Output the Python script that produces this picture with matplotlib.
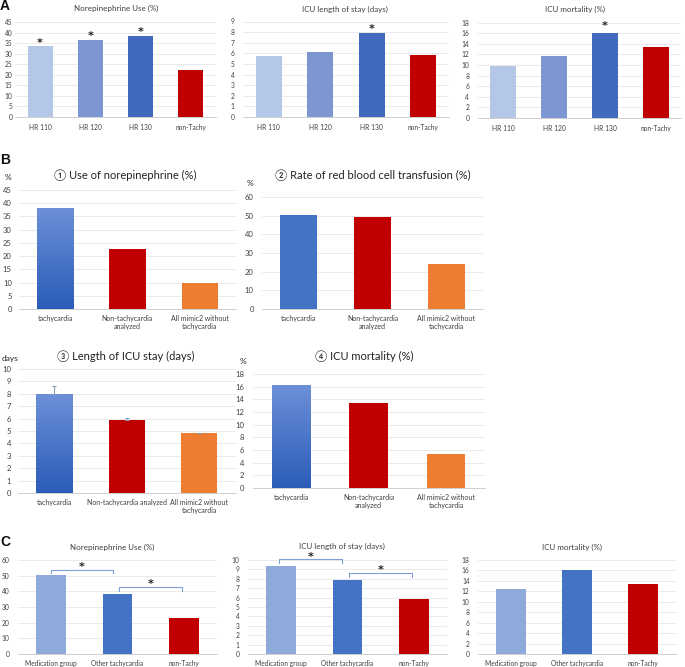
import numpy as np
import matplotlib
matplotlib.use("Agg")
import matplotlib.pyplot as plt
from matplotlib.colors import LinearSegmentedColormap

plt.rcParams['font.family'] = ['Lato', 'Noto Sans CJK JP', 'DejaVu Sans']

# ---- data ----
hr_groups = ['HR 110', 'HR 120', 'HR 130', 'non-Tachy']
a_norepi = [33.5, 36.7, 38.5, 22.5]
a_los = [5.75, 6.1, 7.95, 5.85]
a_mort = [9.8, 11.6, 16.1, 13.4]

b_groups = ['tachycardia', 'Non-tachycardia\nanalyzed', 'All mimic2 without\ntachycardia']
b_groups_los = ['tachycardia', 'Non-tachycardia analyzed', 'All mimic2 without\ntachycardia']
b_norepi = [38.3, 22.6, 9.8]
b_rbc = [50.5, 49.5, 24.0]
b_los = [7.95, 5.85, 4.8]
b_los_err = [0.7, 0.2, 0.05]
b_mort = [16.2, 13.4, 5.4]

c_groups = ['Medication group', 'Other tachycardia', 'non-Tachy']
c_norepi = [50.2, 38.0, 22.7]
c_los = [9.35, 7.9, 5.85]
c_mort = [12.4, 16.1, 13.4]

a_colors = ['#b4c7e7', '#7b96d1', '#4169be', '#c00000']
c_colors = ['#8eaadb', '#4472c4', '#c00000']
RED = '#c00000'
ORANGE = '#ed7d31'
BLUE = '#4472c4'
TXT = '#404040'

W, H = 685, 667
fig = plt.figure(figsize=(W / 100, H / 100), dpi=100)


def axpx(l, top, w, h):
    return fig.add_axes([l / W, 1 - (top + h) / H, w / W, h / H])


def ftext(x, y, s, **kw):
    fig.text(x / W, 1 - y / H, s, **kw)


def style(ax, ylim, step, xfs, yfs, xpad, ypad):
    ax.set_ylim(0, ylim)
    ax.set_yticks(np.arange(0, ylim + 0.001, step))
    for s in ['top', 'right', 'left']:
        ax.spines[s].set_visible(False)
    ax.spines['bottom'].set_color('#d0d0d0')
    ax.spines['bottom'].set_linewidth(0.7)
    ax.grid(axis='y', color='#e6e6e6', linewidth=0.6)
    ax.set_axisbelow(True)
    ax.tick_params(axis='both', length=0, colors=TXT)
    ax.tick_params(axis='x', labelsize=xfs, pad=xpad)
    ax.tick_params(axis='y', labelsize=yfs, pad=ypad)


def bars(ax, labels, vals, colors, width):
    x = np.arange(len(vals))
    b = ax.bar(x, vals, width=width, color=colors, zorder=2)
    ax.set_xticks(x)
    ax.set_xticklabels(labels)
    ax.set_xlim(-0.5, len(vals) - 0.5)
    return b


grad = LinearSegmentedColormap.from_list('g', ['#2b5cb8', '#6c90d8'])


def gradient(ax, bar):
    x0, w, h = bar.get_x(), bar.get_width(), bar.get_height()
    img = ax.imshow(np.linspace(0, 1, 100).reshape(-1, 1), cmap=grad, origin='lower',
                    extent=(x0, x0 + w, 0, h), aspect='auto', zorder=3)
    img.set_clip_path(bar)


def star(ax, x, y, dy=1):
    ax.annotate('*', (x, y), xytext=(0, dy), textcoords='offset points', ha='center',
                va='bottom', fontsize=8, fontweight='bold', color='#202020',
                annotation_clip=False, family='DejaVu Sans')


# ---- panel A ----
ax = axpx(15, 22, 201, 95)
bars(ax, hr_groups, a_norepi, a_colors, 0.5)
style(ax, 45, 5, 4.8, 4.8, 5, 2)
for i in range(3):
    star(ax, i, a_norepi[i], -1)
ftext(116, 8, 'Norepinephrine Use (%)', ha='center', va='center', fontsize=5.8, color=TXT)

ax = axpx(243, 21.5, 206, 95.5)
bars(ax, hr_groups, a_los, a_colors, 0.5)
style(ax, 9, 1, 4.8, 4.8, 5, 6)
star(ax, 2, a_los[2], -1)
ftext(345, 9, 'ICU length of stay (days)', ha='center', va='center', fontsize=5.8, color=TXT)

ax = axpx(477.5, 22.5, 204, 95.5)
bars(ax, hr_groups, a_mort, a_colors, 0.5)
style(ax, 18, 2, 4.8, 4.8, 5, 6)
star(ax, 2, a_mort[2], 1)
ftext(575, 9, 'ICU mortality (%)', ha='center', va='center', fontsize=5.8, color=TXT)

# ---- panel B ----
ax = axpx(18.75, 190, 217.5, 119)
b = bars(ax, b_groups, b_norepi, [BLUE, RED, ORANGE], 0.5)
gradient(ax, b[0])
style(ax, 45, 5, 5, 5.5, 4, 5)
ax.set_xlim(-0.5, 2.5)
ftext(8, 178, '%', ha='center', va='center', fontsize=6, color='#222222')
ftext(125, 175, '\u2460 Use of norepinephrine (%)', ha='center', va='center', fontsize=8, color='#222222')

ax = axpx(262, 197, 221, 112)
bars(ax, b_groups, b_rbc, [BLUE, RED, ORANGE], 0.5)
style(ax, 60, 10, 5, 5.5, 4, 6)
ftext(250, 183, '%', ha='center', va='center', fontsize=6, color='#222222')
ftext(373, 175, '\u2461 Rate of red blood cell transfusion (%)', ha='center', va='center', fontsize=8, color='#222222')

ax = axpx(18, 369, 217.5, 124)
b = bars(ax, b_groups_los, b_los, [BLUE, RED, ORANGE], 0.5)
ax.errorbar(np.arange(3), b_los, yerr=[np.zeros(3), b_los_err], fmt='none',
            ecolor='#8a9cc0', elinewidth=0.8, capsize=1.5, capthick=0.8, zorder=4)
gradient(ax, b[0])
style(ax, 10, 1, 5, 5.5, 4, 5)
ax.set_xlim(-0.5, 2.5)
ftext(10, 358, 'days', ha='center', va='center', fontsize=6, color='#222222')
ftext(126, 356, '\u2462 Length of ICU stay (days)', ha='center', va='center', fontsize=8, color='#222222')

ax = axpx(252.75, 374, 232, 114)
b = bars(ax, b_groups, b_mort, [BLUE, RED, ORANGE], 0.5)
gradient(ax, b[0])
style(ax, 18, 2, 5, 5.5, 4, 6)
ax.set_xlim(-0.5, 2.5)
ftext(243, 362, '%', ha='center', va='center', fontsize=6, color='#222222')
ftext(364, 356, '\u2463 ICU mortality (%)', ha='center', va='center', fontsize=8, color='#222222')

# ---- panel C ----
BR = '#7f9fd9'


def bracket(ax, x0, x1, y, drop, sy):
    ax.plot([x0, x0, x1, x1], [y - drop, y, y, y - drop], color=BR, lw=0.8,
            clip_on=False, zorder=4)
    ax.text((x0 + x1) / 2, sy, '*', ha='center', va='center', fontsize=8,
            fontweight='bold', color='#202020', clip_on=False, family='DejaVu Sans')


ax = axpx(17.75, 560, 199.5, 94)
bars(ax, c_groups, c_norepi, c_colors, 0.45)
style(ax, 60, 10, 4.8, 4.8, 4, 6)
bracket(ax, 0.0, 0.93, 53.6, 1.9, 55.6)
bracket(ax, 1.02, 1.97, 42.8, 2.6, 44.8)
ftext(112, 547, 'Norepinephrine Use (%)', ha='center', va='center', fontsize=5.8, color=TXT)

ax = axpx(247.75, 560, 199.5, 94)
bars(ax, c_groups, c_los, c_colors, 0.45)
style(ax, 10, 1, 4.8, 4.8, 4, 6)
bracket(ax, -0.03, 0.92, 10.1, 0.4, 10.35)
bracket(ax, 1.02, 1.97, 8.6, 0.4, 8.95)
ftext(342, 546, 'ICU length of stay (days)', ha='center', va='center', fontsize=5.8, color=TXT)

ax = axpx(478, 560, 198, 94)
bars(ax, c_groups, c_mort, c_colors, 0.45)
style(ax, 18, 2, 4.8, 4.8, 4, 6)
ftext(572, 547, 'ICU mortality (%)', ha='center', va='center', fontsize=5.8, color=TXT)

# panel letters
for lab, y in [('A', 6), ('B', 160), ('C', 542)]:
    ftext(5, y, lab, ha='center', va='center', fontsize=10, fontweight='bold',
          family='Liberation Sans', color='#111111')

fig.savefig('out.png', dpi=100)
